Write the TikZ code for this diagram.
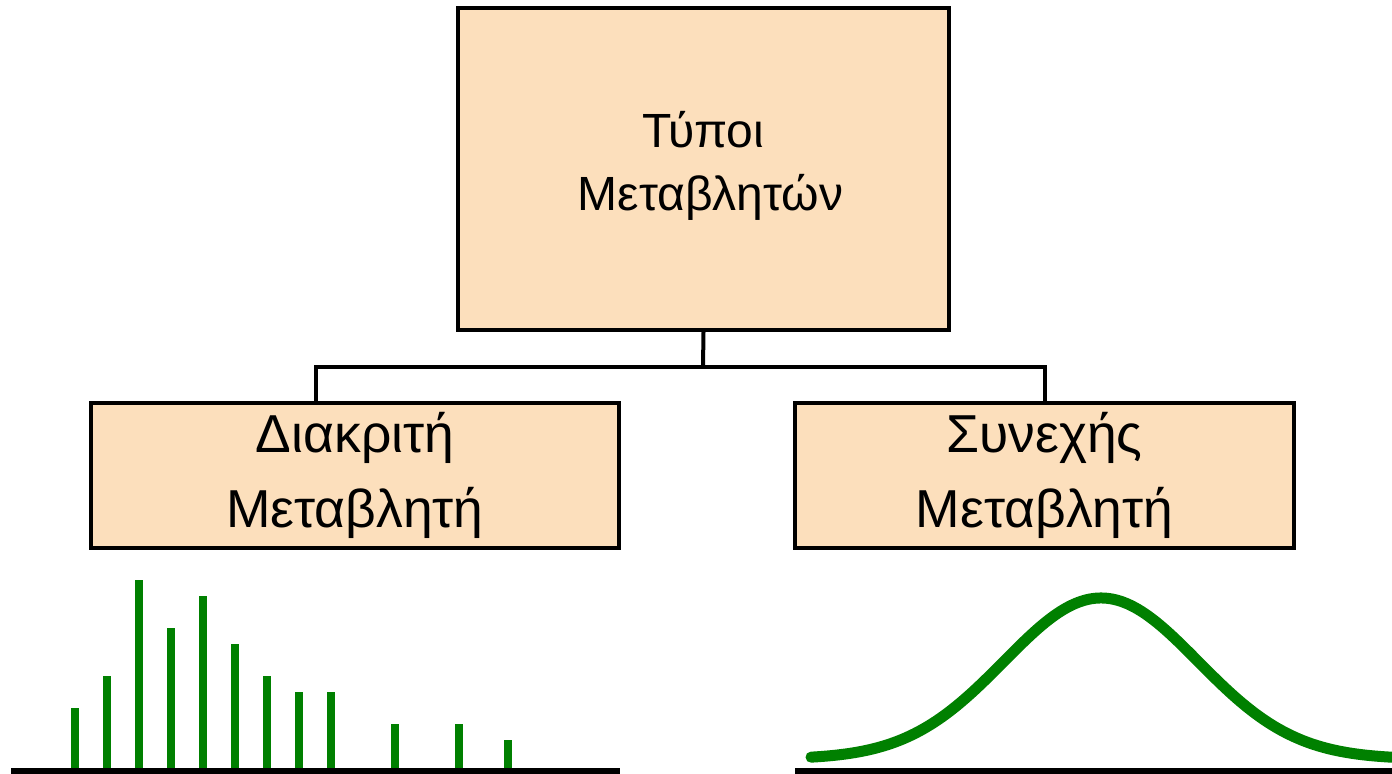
\documentclass[tikz,border=0pt]{standalone}
\usepackage{fontspec}
\setmainfont{Liberation Sans}
\definecolor{peach}{HTML}{FCDFBC}
\definecolor{plotgreen}{RGB}{0,128,0}
\tikzset{
  box/.style={draw=black, line width=1.7pt, fill=peach, align=center, inner sep=0pt},
  link/.style={draw=black, line width=2pt},
  axis/.style={draw=black, line width=3pt},
  bar/.style={draw=plotgreen, line width=4pt},
  curve/.style={draw=plotgreen, line width=5.5pt, line cap=round, line join=round},
}
\begin{document}
\begin{tikzpicture}[x=0.5pt, y=-0.5pt]
\useasboundingbox (0,0) rectangle (1392,774);

% boxes (the strut in the top box lifts its two lines slightly)
\node[box, minimum width=245.5pt, minimum height=161pt,
      font=\fontsize{24}{31.5}\selectfont] (top) at (703.5,169)
  {Τύποι\\\hspace*{0.3em}Μεταβλητών\rule[-8pt]{0pt}{0pt}};
\node[box, minimum width=264pt, minimum height=72.5pt,
      font=\fontsize{26.7}{37.5}\selectfont] (left) at (355,475.5)
  {Διακριτή\\Μεταβλητή};
\node[box, minimum width=249.5pt, minimum height=72.5pt,
      font=\fontsize{26.7}{37.5}\selectfont] (right) at (1044.5,475.5)
  {Συνεχής\\Μεταβλητή};

% tree connectors
\coordinate (junc) at (703,367);
\coordinate (ldrop) at (316,403);
\draw[link] (top.south) -- (junc);
\draw[link] (ldrop) |- (junc) -| (right.north);

% discrete distribution
\coordinate (laxisL) at (11,771);
\coordinate (laxisR) at (620,771);
\foreach \x/\h in {75/708,107/676,139/580,171/628,203/596,235/644,267/676,299/692,331/692,395/724,459/724,508/740}
  \draw[bar] (\x,771) -- (\x,\h);
\draw[axis] (laxisL) -- (laxisR);

% continuous distribution
\coordinate (raxisL) at (795,771);
\coordinate (raxisR) at (1400,771);
\draw[axis] (raxisL) -- (raxisR);
\draw[curve] plot[domain=811:1400, samples=120, smooth]
  (\x, {759-161*exp(-0.5*((\x-1101)/97)^2)});
\end{tikzpicture}
\end{document}
